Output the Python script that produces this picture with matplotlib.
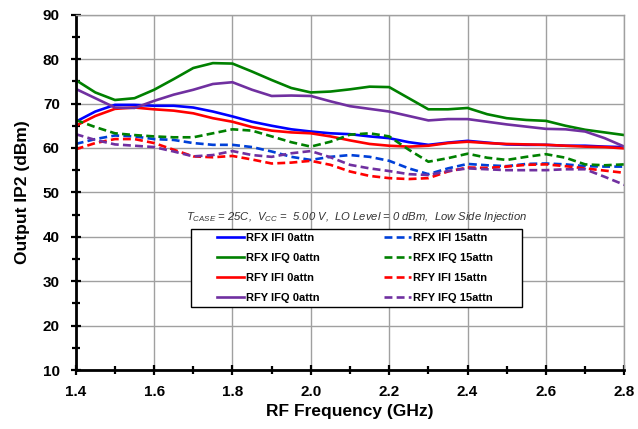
import numpy as np
import matplotlib
matplotlib.use('Agg')
from matplotlib import pyplot as plt
from matplotlib.patches import Rectangle
import matplotlib.ticker as ticker

plt.rcParams['font.family'] = ['Liberation Sans', 'DejaVu Sans']
plt.rcParams['mathtext.fontset'] = 'custom'
plt.rcParams['mathtext.it'] = 'Liberation Sans:italic'
plt.rcParams['mathtext.rm'] = 'Liberation Sans:italic'

freq = [1.40, 1.45, 1.50, 1.55, 1.60, 1.65, 1.70, 1.75, 1.80, 1.85, 1.90, 1.95, 2.00, 2.05, 2.10,
        2.15, 2.20, 2.25, 2.30, 2.35, 2.40, 2.45, 2.50, 2.55, 2.60, 2.65, 2.70, 2.75, 2.80]

rfx_ifi_0 = [65.9, 68.2, 69.7, 69.7, 69.5, 69.5, 69.1, 68.2, 67.1, 65.9, 65.0, 64.2, 63.7, 63.3, 63.1,
             62.6, 62.2, 61.3, 60.7, 61.2, 61.6, 61.2, 60.8, 60.7, 60.7, 60.5, 60.5, 60.3, 60.2]
rfx_ifq_0 = [75.3, 72.5, 70.8, 71.2, 73.1, 75.5, 78.0, 79.1, 79.0, 77.2, 75.3, 73.5, 72.5, 72.7, 73.2,
             73.8, 73.7, 71.2, 68.7, 68.7, 69.0, 67.6, 66.7, 66.3, 66.1, 65.0, 64.1, 63.5, 62.9]
rfy_ifi_0 = [65.0, 67.2, 68.8, 69.1, 68.7, 68.4, 67.8, 66.7, 65.9, 64.7, 63.9, 63.5, 63.3, 62.6, 61.7,
             60.9, 60.5, 60.3, 60.5, 61.1, 61.4, 61.1, 60.9, 60.8, 60.7, 60.5, 60.3, 60.2, 59.9]
rfy_ifq_0 = [73.3, 71.2, 69.1, 69.0, 70.6, 72.0, 73.1, 74.4, 74.8, 73.1, 71.7, 71.8, 71.7, 70.5, 69.4,
             68.8, 68.2, 67.2, 66.2, 66.5, 66.5, 65.9, 65.3, 64.8, 64.3, 64.2, 63.7, 62.2, 60.3]
rfx_ifi_15 = [60.9, 62.0, 62.8, 62.6, 62.0, 61.8, 61.1, 60.7, 60.7, 60.2, 59.2, 58.0, 57.3, 58.0, 58.4,
              58.0, 57.1, 55.4, 54.1, 55.4, 56.4, 56.1, 55.9, 56.4, 56.5, 56.3, 55.9, 55.8, 55.8]
rfx_ifq_15 = [66.3, 64.7, 63.3, 62.9, 62.6, 62.4, 62.4, 63.3, 64.2, 63.9, 62.6, 61.3, 60.3, 61.4, 63.0,
              63.3, 62.6, 59.6, 56.9, 57.7, 58.7, 57.8, 57.3, 58.0, 58.6, 57.8, 56.3, 56.1, 56.3]
rfy_ifi_15 = [59.7, 61.1, 62.0, 62.0, 61.1, 59.6, 58.1, 57.9, 58.2, 57.4, 56.5, 56.7, 57.1, 56.2, 54.7,
              53.7, 53.2, 53.0, 53.2, 54.7, 55.6, 55.5, 55.8, 56.2, 56.3, 55.9, 55.4, 54.9, 54.4]
rfy_ifq_15 = [63.1, 61.8, 60.8, 60.5, 60.2, 59.2, 58.1, 58.4, 59.3, 58.4, 58.0, 58.8, 59.3, 57.9, 56.2,
              55.4, 54.8, 54.1, 53.9, 54.8, 55.4, 55.2, 55.0, 55.0, 55.0, 55.2, 55.2, 53.5, 51.7]

series = [
    ("RFX IFI 0attn", rfx_ifi_0, '#0000ff', '-'),
    ("RFX IFQ 0attn", rfx_ifq_0, '#008000', '-'),
    ("RFY IFI 0attn", rfy_ifi_0, '#ff0000', '-'),
    ("RFY IFQ 0attn", rfy_ifq_0, '#7030a0', '-'),
    ("RFX IFI 15attn", rfx_ifi_15, '#0040d8', (0, (3, 1.6))),
    ("RFX IFQ 15attn", rfx_ifq_15, '#008000', (0, (3, 1.6))),
    ("RFY IFI 15attn", rfy_ifi_15, '#ff0000', (0, (3, 1.6))),
    ("RFY IFQ 15attn", rfy_ifq_15, '#7030a0', (0, (3, 1.6))),
]

fig = plt.figure(figsize=(6.38, 4.29), dpi=100)
ax = fig.add_axes([0.1187, 0.1375, 0.8598, 0.8282])

for label, vals, color, ls in series:
    ax.plot(freq, vals, color=color, linestyle=ls, linewidth=1.9, label=label)

ax.set_xlim(1.4, 2.8)
ax.set_ylim(10, 90)
ax.xaxis.set_major_locator(ticker.MultipleLocator(0.2))
ax.xaxis.set_minor_locator(ticker.MultipleLocator(0.1))
ax.yaxis.set_major_locator(ticker.MultipleLocator(10))
ax.yaxis.set_minor_locator(ticker.MultipleLocator(5))
ax.xaxis.set_major_formatter(ticker.FormatStrFormatter('%.1f'))

ax.grid(True, which='major', color='#a0a0a0', linewidth=1.0)
ax.set_axisbelow(True)
for side in ['top', 'right']:
    ax.spines[side].set_color('#a0a0a0')
    ax.spines[side].set_linewidth(1.0)
for side in ['left', 'bottom']:
    ax.spines[side].set_color('black')
    ax.spines[side].set_linewidth(2.0)

ax.tick_params(which='both', direction='inout', width=1.6, colors='black')
ax.tick_params(which='major', length=7)
ax.tick_params(which='minor', length=6)
ax.tick_params(axis='x', pad=7)
ax.tick_params(axis='y', pad=8)
for lab in ax.get_xticklabels() + ax.get_yticklabels():
    lab.set_fontweight('bold')
    lab.set_fontsize(11)

ax.set_xlabel("RF Frequency (GHz)", fontsize=12.5, fontweight='bold', labelpad=4)
ax.set_ylabel("Output IP2 (dBm)", fontsize=12.5, fontweight='bold', labelpad=9)

ax.text(0.511, 0.4315,
        r"$T_{CASE}$ = 25C,  $V_{CC}$ =  5.00 V,  LO Level = 0 dBm,  Low Side Injection",
        transform=ax.transAxes, ha='center', va='center', fontsize=8.1, style='italic',
        color='#333333')

# legend box (frame drawn separately to get the wide Excel-style padding)
frame = Rectangle((0.210, 0.1773), 0.6035, 0.2197, transform=ax.transAxes,
                  facecolor='white', edgecolor='black', linewidth=1.0, zorder=4)
ax.add_patch(frame)
leg = ax.legend(ncol=2, loc='center', bbox_to_anchor=(0.509, 0.287),
                prop={'weight': 'bold', 'size': 8}, handlelength=2.43, handletextpad=0.2,
                columnspacing=5.8, labelspacing=0.88, borderpad=0.0, frameon=False)
leg.set_zorder(5)

plt.savefig('out.png', dpi=100)
